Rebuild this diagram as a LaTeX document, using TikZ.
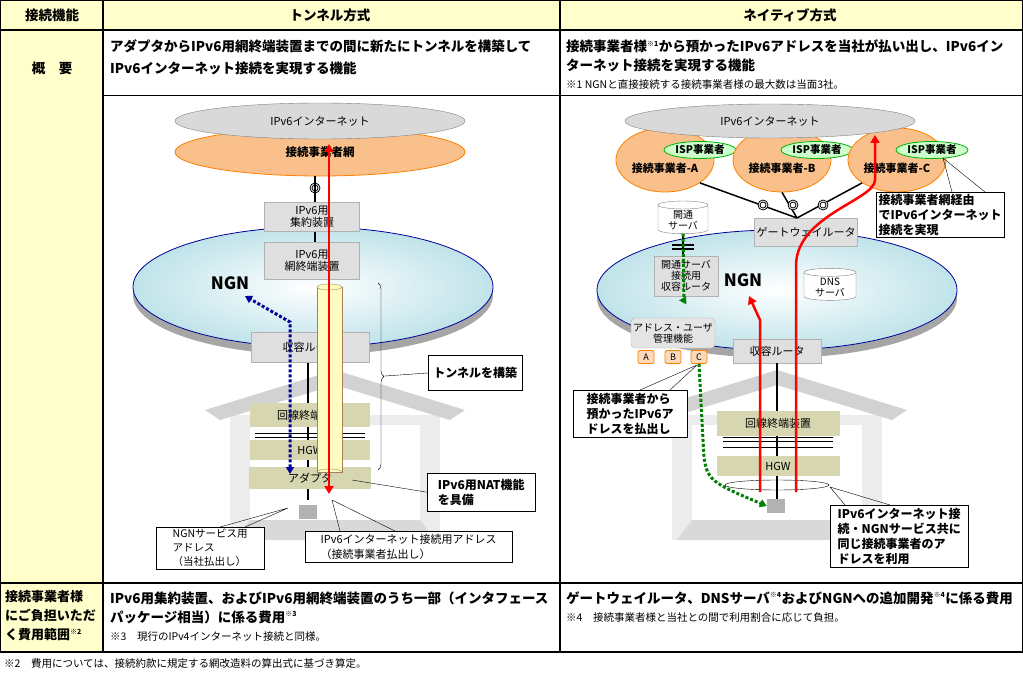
\documentclass[tikz,border=0pt]{standalone}
\usepackage{fontspec}
\setmainfont{Noto Sans CJK JP}
\usetikzlibrary{shapes.geometric,arrows.meta,decorations.pathreplacing}
\definecolor{hdr}{HTML}{FFFFCC}
\definecolor{ngnblue}{HTML}{BFE3EA}
\definecolor{olive}{HTML}{D6D6B0}
\definecolor{isp}{HTML}{F9C08C}
\tikzset{
  txt/.style={font=\fontsize{13.5}{16}\selectfont\bfseries, anchor=west, inner sep=0},
  small/.style={font=\fontsize{10.5}{12}\selectfont, anchor=west, inner sep=0},
  dev/.style={draw=gray!60, fill=gray!25, font=\fontsize{11}{12}\selectfont, align=center, inner sep=1},
  term/.style={fill=olive, font=\fontsize{11}{12}\selectfont, inner sep=0},
  call/.style={draw, fill=white, font=\fontsize{12}{15}\selectfont\bfseries, align=left, anchor=north west, inner sep=3},
  cyl/.style={cylinder, shape border rotate=90, aspect=0.25, draw=gray, fill=white, font=\fontsize{10}{11}\selectfont, align=center, inner sep=1},
  redarr/.style={red, line width=2.5pt, -{Triangle[length=8pt,width=9pt]}},
}
\newcommand{\home}[1]{%
  \fill[gray!15] (#1-105,415) rectangle (#1+105,540);
  \fill[white] (#1-85,425) rectangle (#1+85,520);
  \fill[gray!35] (#1-130,410) -- (#1,370) -- (#1+130,410) -- (#1+115,420) -- (#1,385) -- (#1-115,420) -- cycle;
  \fill[gray!30] (#1-85,520) -- (#1+85,520) -- (#1+100,540) -- (#1-100,540) -- cycle;
}
\begin{document}
\begin{tikzpicture}[x=1pt,y=-1pt]
\useasboundingbox (0,0) rectangle (1023,674);
% table
\fill[hdr] (0,0) rectangle (1023,30);
\fill[hdr] (0,30) rectangle (103,652);
\draw[line width=1.2pt] (0,0) rectangle (1023,652);
\draw[line width=1.2pt] (0,30) -- (1023,30) (0,583) -- (1023,583) (103,0) -- (103,652) (560,0) -- (560,652);
\draw (103,95) -- (1023,95);
\node[txt,anchor=center] (h1) at (52,15) {接続機能};
\node[txt,anchor=center] (h2) at (330,15) {トンネル方式};
\node[txt,anchor=center] (h3) at (790,15) {ネイティブ方式};
\node[txt,anchor=center] (r1) at (52,68) {概　要};
\node[txt] (t1) at (110,46) {アダプタからIPv6用網終端装置までの間に新たにトンネルを構築して};
\node[txt] (t2) at (110,68) {IPv6インターネット接続を実現する機能};
\node[txt] (n1) at (566,46) {接続事業者様\textsuperscript{\fontsize{7}{7}\selectfont ※1}から預かったIPv6アドレスを当社が払い出し、IPv6イン};
\node[txt] (n2) at (566,65) {ターネット接続を実現する機能};
\node[small] (n3) at (566,85) {※1 NGNと直接接続する接続事業者様の最大数は当面3社。};
\node[txt,align=left,anchor=north west,font=\fontsize{13}{19}\selectfont\bfseries] (r2) at (5,590) {接続事業者様\\にご負担いただ\\く費用範囲\textsuperscript{\fontsize{7}{7}\selectfont ※2}};
\node[txt] (c1) at (110,598) {IPv6用集約装置、およびIPv6用網終端装置のうち一部（インタフェース};
\node[txt] (c2) at (110,617) {パッケージ相当）に係る費用\textsuperscript{\fontsize{7}{7}\selectfont ※3}};
\node[small] (c3) at (110,637) {※3　現行のIPv4インターネット接続と同様。};
\node[txt] (d1) at (566,598) {ゲートウェイルータ、DNSサーバ\textsuperscript{\fontsize{7}{7}\selectfont ※4}およびNGNへの追加開発\textsuperscript{\fontsize{7}{7}\selectfont ※4}に係る費用};
\node[small] (d2) at (566,618) {※4　接続事業者様と当社との間で利用割合に応じて負担。};
\node[small] (fn) at (4,664) {※2　費用については、接続約款に規定する網改造料の算出式に基づき算定。};

% ---- tunnel side
\fill[gray!70] (313,295) ellipse (180 and 60);
\shade[inner color=white, outer color=ngnblue] (313,287) ellipse (180 and 60);
\draw[blue!60!black, thick] (313,287) ellipse (180 and 60);
\node[draw=orange, thick, fill=isp, ellipse, minimum width=290, minimum height=48, font=\fontsize{11.5}{12}\selectfont\bfseries] (isp) at (320,152) {接続事業者網};
\node[draw=gray, fill=gray!30, ellipse, minimum width=290, minimum height=36, font=\fontsize{11}{12}\selectfont] (inet) at (320,121) {IPv6インターネット};
\home{335}
\draw[line width=2pt] (315,176) -- (315,203) (315,232) -- (315,243) (308,362) -- (308,500);
\draw[thick] (315,188) circle (5) (315,188) circle (3);
\node[dev, minimum width=95, minimum height=29] (agg) at (312,217) {IPv6用\\集約装置};
\node[dev, minimum width=95, minimum height=37] (bras) at (312,261) {IPv6用\\網終端装置};
\node[font=\fontsize{17}{18}\selectfont\bfseries] (ngn) at (230,283) {NGN};
\node[dev, minimum width=118, minimum height=30] (rt) at (310,347) {収容ルータ};
\node[term, minimum width=120, minimum height=24] (onu) at (310,415) {回線終端装置};
\draw (255,433) -- (365,433) (255,437) -- (365,437);
\node[term, minimum width=120, minimum height=20] (hgw) at (310,450) {HGW};
\node[term, minimum width=122, minimum height=22] (adp) at (310,478) {アダプタ};
\node[fill=gray!60, minimum width=18, minimum height=14, inner sep=0] (pc) at (308,512) {};
\fill[yellow!25, draw=gray!70!orange] (317,287) rectangle (342,472);
\draw[gray!70!orange, fill=yellow!25] (329.5,287) ellipse (12.5 and 3);
\draw[gray!70!orange] (317,472) arc (180:360:12.5 and 3);
\draw[red, line width=2.5pt, {Triangle[length=8pt,width=9pt]}-{Triangle[length=8pt,width=9pt]}] (329,144) -- (329,494);
\coordinate (bl1) at (290,474);
\coordinate (bl2) at (245,296);
\draw[blue!60!black, line width=3pt, dotted, {Triangle[length=7pt,width=8pt]}-{Triangle[length=7pt,width=8pt]}] (bl1) -- (290,322) -- (bl2);
\draw[decorate, decoration={brace, amplitude=6pt}] (378,283) -- (378,470);
\node[call, minimum width=94, minimum height=35, anchor=west] (tun) at (428,373) {トンネルを構築};
\draw (385,376) -- (tun.west);
\node[call, minimum width=108, minimum height=38, inner sep=2] (nat) at (427,473) {IPv6用NAT機能\\を具備};
\draw (352,480) -- (nat.west);
\node[call, minimum width=108, font=\fontsize{10.5}{14}\selectfont, inner sep=2] (adr1) at (156,527) {NGNサービス用\\アドレス\\（当社払出し）};
\draw (288,508) -- (220,527) (288,508) -- (245,527);
\node[call, minimum width=207, font=\fontsize{11}{15}\selectfont, inner sep=3] (adr2) at (305,531) {IPv6インターネット接続用アドレス\\（接続事業者払出し）};
\draw (332,500) -- (340,531) (332,500) -- (395,531);

% ---- native side
\fill[gray!70] (777,298) ellipse (180 and 60);
\shade[inner color=white, outer color=ngnblue] (777,290) ellipse (180 and 60);
\draw[blue!60!black, thick] (777,290) ellipse (180 and 60);
\foreach \n/\x in {A/665,B/782,C/897} {
  \node[draw=orange, thick, fill=isp, ellipse, minimum width=98, minimum height=64] (op\n) at (\x,160) {};
  \node[font=\fontsize{11}{12}\selectfont\bfseries] (opl\n) at (\x,168) {接続事業者-\n};
  \node[draw=green!70!black, thick, fill=green!20, ellipse, minimum width=72, minimum height=17, inner sep=0, font=\fontsize{10.5}{11}\selectfont\bfseries] (isp\n) at (\x+35,150) {ISP事業者};
}
\node[draw=gray, fill=gray!30, ellipse, minimum width=290, minimum height=34, font=\fontsize{11}{12}\selectfont] (inet2) at (770,121) {IPv6インターネット};
\home{777}
\node[dev, minimum width=103, minimum height=28] (gw) at (806,232) {ゲートウェイルータ};
\coordinate (gwt) at (797,218);
\draw[line width=1.5pt] (opA.south east) -- (gwt) (opB.south) -- (gwt) (opC.south west) -- (gwt);
\foreach \x in {763,793,823} \draw[thick, fill=white] (\x,205) circle (5) (\x,205) circle (3);
\node[cyl, minimum width=50, minimum height=32] (kai) at (683,220) {開通\\サーバ};
\draw[line width=2pt] (683,237) -- (683,257) (672,245) -- (694,245) (672,249) -- (694,249);
\node[dev, minimum width=64, minimum height=40, font=\fontsize{10}{11}\selectfont] (kr) at (686,276) {開通サーバ\\接続用\\収容ルータ};
\node[font=\fontsize{17}{18}\selectfont\bfseries] (ngn2) at (743,280) {NGN};
\node[cyl, minimum width=52, minimum height=32] (dns) at (830,287) {DNS\\サーバ};
\node[dev, rounded corners=4, minimum width=84, minimum height=30, fill=gray!20, font=\fontsize{10}{11}\selectfont] (mgmt) at (673,333) {アドレス・ユーザ\\管理機能};
\foreach \n/\x in {A/646,B/673,C/699}
  \node[draw=orange, thick, fill=isp!60, rounded corners=2, minimum width=16, minimum height=13, inner sep=0, font=\fontsize{9}{9}\selectfont] (ab\n) at (\x,357) {\n};
\node[dev, minimum width=88, minimum height=24] (rt2) at (777,351) {収容ルータ};
\draw[line width=2pt] (777,363) -- (777,500);
\node[term, minimum width=123, minimum height=25] (onu2) at (778,423) {回線終端装置};
\draw (723,437) -- (833,437) (723,441) -- (833,441) (723,447) -- (833,447);
\node[term, minimum width=123, minimum height=20] (hgw2) at (778,466) {HGW};
\draw (777,485) ellipse (52 and 5);
\node[fill=gray!60, minimum width=18, minimum height=14, inner sep=0] (pc2) at (776,506) {};
\draw[green!50!black, line width=3pt, dotted] (kai.south) -- (684,300);
\draw[green!50!black, -{Triangle[length=7pt,width=8pt]}, line width=1pt] (684,300) -- (kr.south);
\draw[green!50!black, line width=3pt, dotted, -{Triangle[length=7pt,width=8pt]}] (abC.south) -- (703,440) .. controls (705,480) .. (pc2.west);
\draw[redarr] (760,492) -- (760,320) -- (749,296);
\draw[redarr] (796,492) -- (796,265) .. controls (797,215) and (875,200) .. (875,180) -- (875,135);
\node[call, minimum width=128, inner sep=2] (cb1) at (876,192) {接続事業者網経由\\でIPv6インターネット\\接続を実現};
\draw (943,158) -- (952,192) (943,158) -- (985,192);
\node[call, minimum width=114, inner sep=3] (cb2) at (573,390) {接続事業者から\\預かったIPv6ア\\ドレスを払出し};
\draw (697,365) -- (640,390) (697,365) -- (670,390);
\node[call, minimum width=138, inner sep=3] (cb3) at (830,505) {IPv6インターネット接\\続・NGNサービス共に\\同じ接続事業者のア\\ドレスを利用};
\draw (830,487) -- (845,505) (830,487) -- (890,505);
\end{tikzpicture}
\end{document}
